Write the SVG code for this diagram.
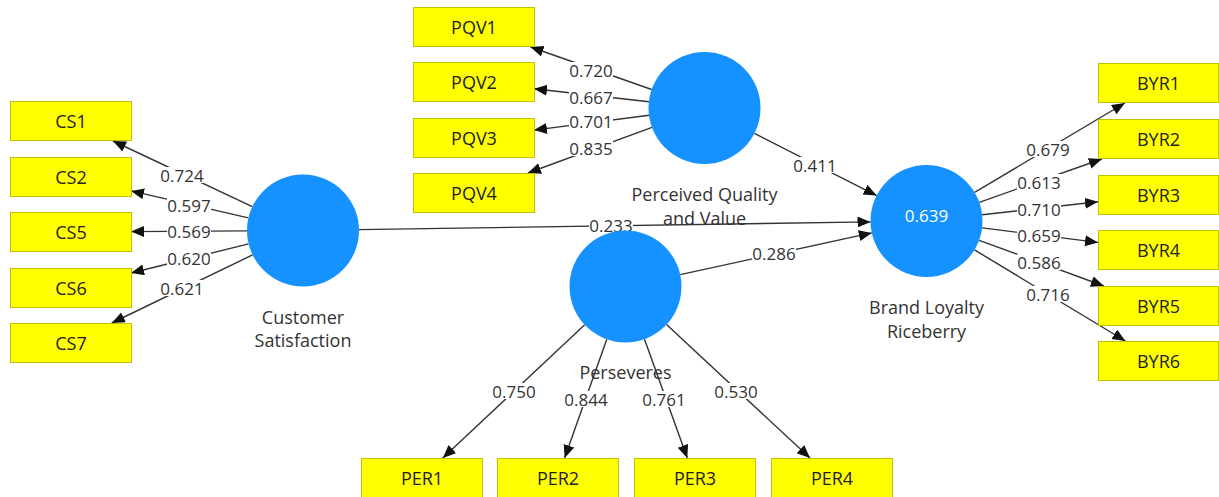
<svg xmlns="http://www.w3.org/2000/svg" width="1219" height="497" viewBox="0 0 1219 497">
  <style>
    .ind rect { fill: #FFFF00; stroke: #C2C200; stroke-width: 1; }
    .ind text { font-family: "Open Sans", "Noto Sans", sans-serif; font-size: 18px; fill: #222; text-anchor: middle; dominant-baseline: central; }
    .lv circle { fill: #1592FF; }
    .lv text { font-family: "Open Sans", "Noto Sans", sans-serif; font-size: 18px; fill: #333; text-anchor: middle; dominant-baseline: central; }
    .lv text.r2 { fill: #FFFFFF; font-size: 17px; }
    #connectors line { stroke: #333; stroke-width: 1.4; marker-end: url(#arrow); }
    #edge-labels rect { fill: #FFFFFF; }
    #edge-labels text { font-family: "Open Sans", "Noto Sans", sans-serif; font-size: 17px; fill: #333; text-anchor: middle; dominant-baseline: central; }
  </style>
  <defs>
    <marker id="arrow" markerUnits="userSpaceOnUse" markerWidth="14" markerHeight="12" refX="13" refY="5.5" orient="auto">
      <path d="M0,0 L13,5.5 L0,11 Z" fill="#111"/>
    </marker>
  </defs>

  <rect x="0" y="0" width="1219" height="497" fill="#FFFFFF"/>

  <!-- paths: circle edge to indicator/construct border -->
  <g id="connectors">
    <!-- Customer Satisfaction -->
    <line x1="252.3" y1="206.6" x2="113" y2="141"/>
    <line x1="248.4" y1="217.9" x2="131" y2="190.9"/>
    <line x1="247" y1="230.9" x2="131" y2="231.6"/>
    <line x1="248.6" y1="243.9" x2="131" y2="273"/>
    <line x1="252.6" y1="254.9" x2="111.8" y2="323"/>
    <!-- Perceived Quality and Value -->
    <line x1="651.7" y1="89.5" x2="530.5" y2="47"/>
    <line x1="648.9" y1="101.7" x2="534" y2="88.8"/>
    <line x1="649" y1="115.2" x2="534" y2="130.1"/>
    <line x1="652" y1="127.3" x2="527.9" y2="173"/>
    <!-- Brand Loyalty Riceberry -->
    <line x1="974.6" y1="192.4" x2="1124.9" y2="103"/>
    <line x1="979.3" y1="202.3" x2="1101.9" y2="159"/>
    <line x1="982.1" y1="214.8" x2="1098" y2="201.8"/>
    <line x1="982.1" y1="227.9" x2="1098" y2="242.4"/>
    <line x1="979.1" y1="240.3" x2="1103.9" y2="286"/>
    <line x1="974.5" y1="249.9" x2="1125.4" y2="341"/>
    <!-- Perseveres -->
    <line x1="584.7" y1="324.8" x2="442.8" y2="458"/>
    <line x1="606.8" y1="339.3" x2="564.6" y2="458"/>
    <line x1="644.5" y1="339.2" x2="687.3" y2="458"/>
    <line x1="666.5" y1="324.6" x2="810" y2="458"/>
    <!-- structural paths -->
    <line x1="359" y1="229.6" x2="870.5" y2="221.9"/>
    <line x1="754.4" y1="133.4" x2="876.6" y2="195.6"/>
    <line x1="680.2" y1="274.6" x2="871.8" y2="232.9"/>
  </g>

  <!-- path coefficients and outer loadings -->
  <g id="edge-labels">
    <rect x="160" y="167" width="44" height="16"/><text x="182" y="175">0.724</text>
    <rect x="167" y="197" width="44" height="16"/><text x="189" y="205">0.597</text>
    <rect x="167" y="223" width="44" height="16"/><text x="189" y="231">0.569</text>
    <rect x="167" y="250" width="44" height="16"/><text x="189" y="258">0.620</text>
    <rect x="160" y="280" width="44" height="16"/><text x="182" y="288">0.621</text>

    <rect x="569" y="62" width="44" height="16"/><text x="591" y="70">0.720</text>
    <rect x="569" y="89" width="44" height="16"/><text x="591" y="97">0.667</text>
    <rect x="569" y="113" width="44" height="16"/><text x="591" y="121">0.701</text>
    <rect x="569" y="140" width="44" height="16"/><text x="591" y="148">0.835</text>

    <rect x="1026" y="141" width="44" height="16"/><text x="1048" y="149">0.679</text>
    <rect x="1017" y="174" width="44" height="16"/><text x="1039" y="182">0.613</text>
    <rect x="1017" y="201" width="44" height="16"/><text x="1039" y="209">0.710</text>
    <rect x="1017" y="227" width="44" height="16"/><text x="1039" y="235">0.659</text>
    <rect x="1017" y="254" width="44" height="16"/><text x="1039" y="262">0.586</text>
    <rect x="1026" y="286" width="44" height="16"/><text x="1048" y="294">0.716</text>

    <rect x="492" y="383" width="44" height="16"/><text x="514" y="391">0.750</text>
    <rect x="564" y="391" width="44" height="16"/><text x="586" y="399">0.844</text>
    <rect x="642" y="391" width="44" height="16"/><text x="664" y="399">0.761</text>
    <rect x="714" y="383" width="44" height="16"/><text x="736" y="391">0.530</text>

    <rect x="589" y="217" width="44" height="16"/><text x="611" y="225">0.233</text>
    <rect x="793" y="157" width="44" height="16"/><text x="815" y="165">0.411</text>
    <rect x="752" y="245" width="44" height="16"/><text x="774" y="253">0.286</text>
  </g>

  <!-- latent variables -->
  <g id="customer-satisfaction" class="lv">
    <circle cx="303" cy="230.5" r="56"/>
    <text x="303" y="317">Customer</text>
    <text x="303" y="340">Satisfaction</text>
  </g>
  <g id="perceived-quality-value" class="lv">
    <circle cx="704.5" cy="108" r="56"/>
    <text x="704.5" y="194">Perceived Quality</text>
    <text x="704.5" y="218">and Value</text>
  </g>
  <g id="brand-loyalty-riceberry" class="lv">
    <circle cx="926.5" cy="221" r="56"/>
    <text class="r2" x="926.5" y="215">0.639</text>
    <text x="926.5" y="307">Brand Loyalty</text>
    <text x="926.5" y="331">Riceberry</text>
  </g>
  <g id="perseveres" class="lv">
    <circle cx="625.5" cy="286.5" r="56"/>
    <text x="625.5" y="372">Perseveres</text>
  </g>

  <!-- indicators -->
  <g id="CS1" class="ind"><rect x="10.5" y="101.5" width="121" height="39"/><text x="71" y="121">CS1</text></g>
  <g id="CS2" class="ind"><rect x="10.5" y="157.5" width="121" height="39"/><text x="71" y="177">CS2</text></g>
  <g id="CS5" class="ind"><rect x="10.5" y="212.5" width="121" height="39"/><text x="71" y="232">CS5</text></g>
  <g id="CS6" class="ind"><rect x="10.5" y="268.5" width="121" height="39"/><text x="71" y="288">CS6</text></g>
  <g id="CS7" class="ind"><rect x="10.5" y="323.5" width="121" height="39"/><text x="71" y="343">CS7</text></g>

  <g id="PQV1" class="ind"><rect x="413.5" y="7.5" width="121" height="39"/><text x="474" y="27">PQV1</text></g>
  <g id="PQV2" class="ind"><rect x="413.5" y="62.5" width="121" height="39"/><text x="474" y="82">PQV2</text></g>
  <g id="PQV3" class="ind"><rect x="413.5" y="118.5" width="121" height="39"/><text x="474" y="138">PQV3</text></g>
  <g id="PQV4" class="ind"><rect x="413.5" y="173.5" width="121" height="39"/><text x="474" y="193">PQV4</text></g>

  <g id="BYR1" class="ind"><rect x="1098.5" y="63.5" width="120" height="39"/><text x="1158.5" y="83">BYR1</text></g>
  <g id="BYR2" class="ind"><rect x="1098.5" y="119.5" width="120" height="39"/><text x="1158.5" y="139">BYR2</text></g>
  <g id="BYR3" class="ind"><rect x="1098.5" y="175.5" width="120" height="39"/><text x="1158.5" y="195">BYR3</text></g>
  <g id="BYR4" class="ind"><rect x="1098.5" y="230.5" width="120" height="39"/><text x="1158.5" y="250">BYR4</text></g>
  <g id="BYR5" class="ind"><rect x="1098.5" y="286.5" width="120" height="39"/><text x="1158.5" y="306">BYR5</text></g>
  <g id="BYR6" class="ind"><rect x="1098.5" y="341.5" width="120" height="39"/><text x="1158.5" y="361">BYR6</text></g>

  <g id="PER1" class="ind"><rect x="361.5" y="458.5" width="121" height="40"/><text x="422" y="478">PER1</text></g>
  <g id="PER2" class="ind"><rect x="497.5" y="458.5" width="121" height="40"/><text x="558" y="478">PER2</text></g>
  <g id="PER3" class="ind"><rect x="634.5" y="458.5" width="121" height="40"/><text x="695" y="478">PER3</text></g>
  <g id="PER4" class="ind"><rect x="771.5" y="458.5" width="121" height="40"/><text x="832" y="478">PER4</text></g>
</svg>
